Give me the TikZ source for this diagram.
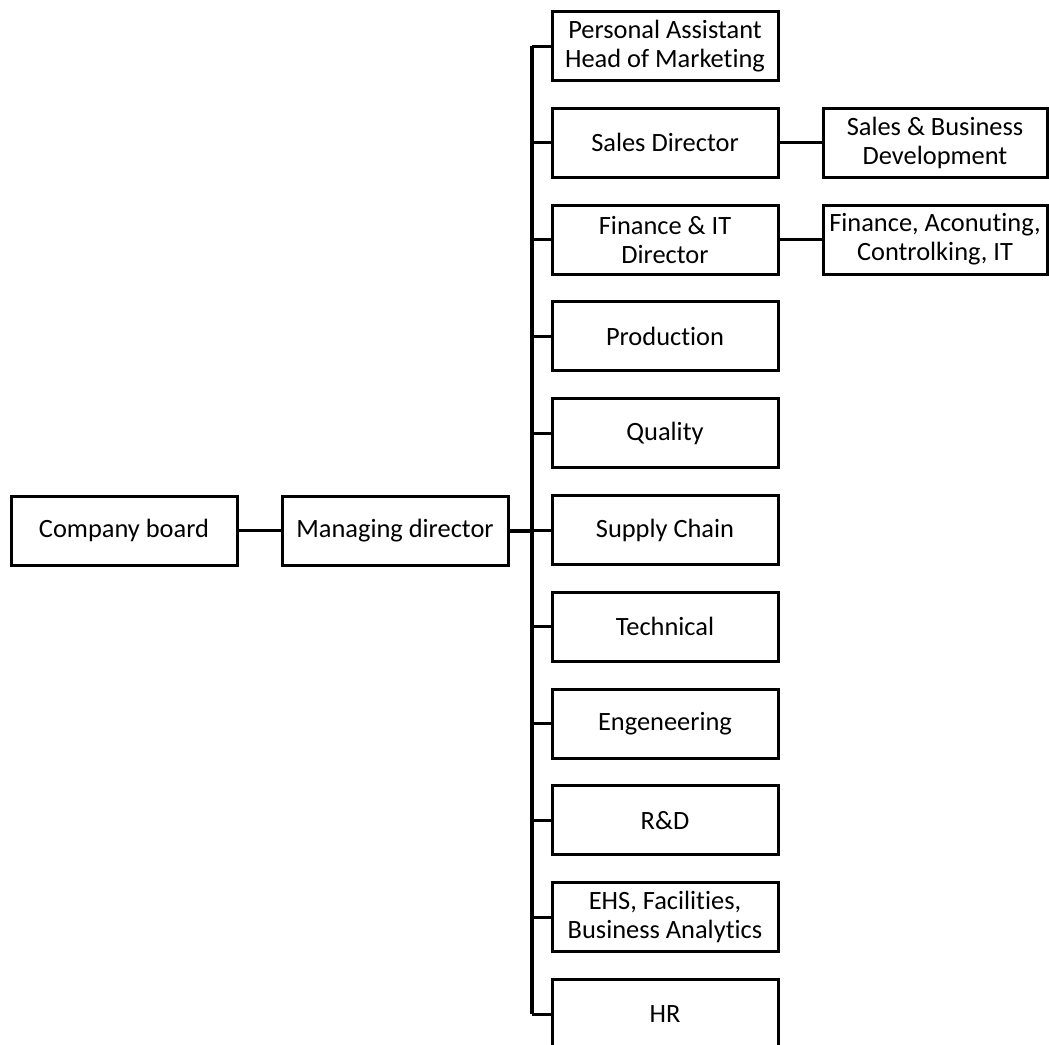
\documentclass[tikz,border=0pt]{standalone}
\usepackage{fontspec}
\setmainfont[Ligatures=NoCommon]{Carlito}
\usepackage{tikz}

\begin{document}
\begin{tikzpicture}[x=0.5pt,y=-0.5pt,
    box/.style={draw, line width=1.5pt, minimum width=113pt, minimum height=34.5pt,
      inner sep=0pt, align=center, font=\fontsize{13.2}{14.5}\selectfont},
    subbox/.style={box, minimum width=112pt},
    link/.style={line width=1.5pt},
    trunk/.style={line width=2pt}]
  \clip (0,0) rectangle (1049,1044);
  \node[box] (board) at (124,530.5) {Company board};
  \node[box] (md) at (395,530.5) {Managing director};
  \node[box] (pa) at (665,46) {Personal Assistant\\Head of Marketing};
  \node[box] (sales) at (665,142.8) {Sales Director};
  \node[box] (fin) at (665,239.6) {Finance \& IT\\Director};
  \node[box] (prod) at (665,336.4) {Production};
  \node[box] (qual) at (665,433.2) {Quality};
  \node[box] (supply) at (665,530) {Supply Chain};
  \node[box] (tech) at (665,626.8) {Technical};
  \node[box] (eng) at (665,723.6) {Engeneering};
  \node[box] (rd) at (665,820.4) {R\&D};
  \node[box] (ehs) at (665,917.2) {EHS, Facilities,\\Business Analytics};
  \node[box] (hr) at (665,1014) {HR};
  \node[subbox] (salesbd) at (935,142.8) {Sales \& Business\\Development};
  \node[subbox] (finacc) at (935,239.6) {Finance, Aconuting,\\Controlking, IT};
  \coordinate (bus) at (532,530.5);
  \draw[link] (board) -- (md);
  \draw[trunk] (md) -- (bus);
  \draw[trunk] (bus |- pa.west) -- (bus |- hr.west);
  \foreach \n in {pa,sales,fin,prod,qual,supply,tech,eng,rd,ehs,hr}
    \draw[link] (bus |- \n.west) -- (\n.west);
  \draw[link] (sales) -- (salesbd);
  \draw[link] (fin) -- (finacc);
\end{tikzpicture}
\end{document}
